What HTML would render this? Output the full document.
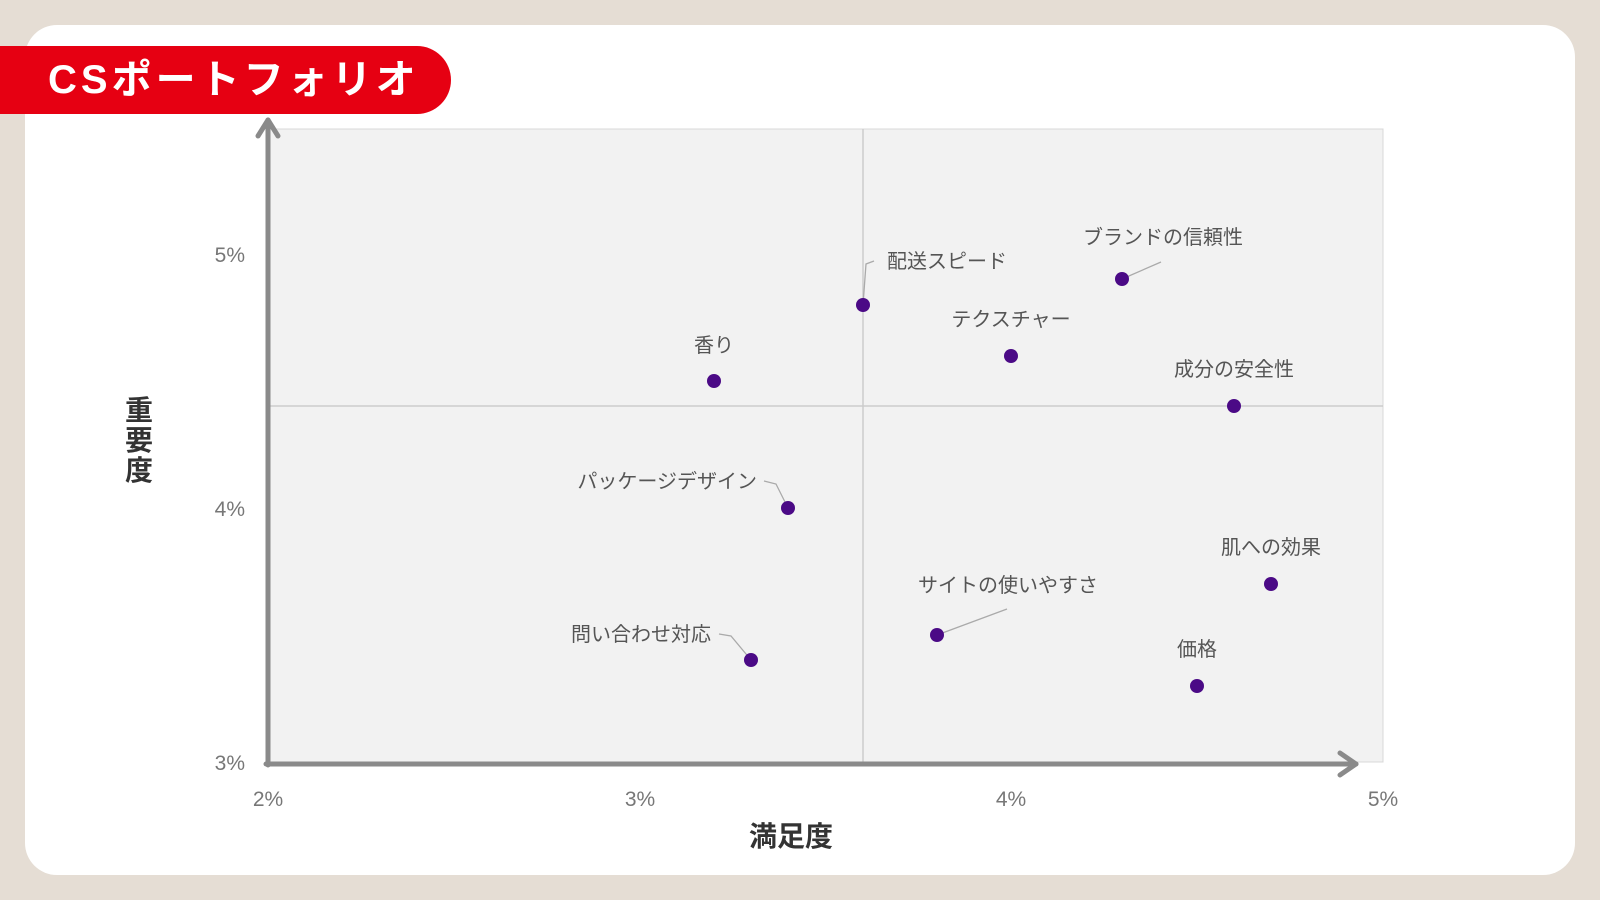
<!DOCTYPE html>
<html><head><meta charset="utf-8"><style>
body{margin:0;width:1600px;height:900px;background:#e5ddd4;overflow:hidden;font-family:"Liberation Sans","Noto Sans CJK JP",sans-serif}
.card{position:absolute;left:25px;top:25px;width:1550px;height:850px;background:#fff;border-radius:32px}
.ban{position:absolute;left:0;top:46px;width:451px;height:68px;background:#e60012;border-radius:0 34px 34px 0;color:#fff;font-weight:bold;font-size:40px;line-height:68px;padding-left:48px;box-sizing:border-box;letter-spacing:4px}
svg{position:absolute;left:0;top:0}
</style></head><body>
<div class="card"></div>
<svg width="1600" height="900" font-family="Liberation Sans, Noto Sans CJK JP, sans-serif">
<rect x="268" y="129" width="1115" height="633" fill="#f2f2f2" stroke="#d8d8d8"/>
<line x1="863" y1="129" x2="863" y2="762" stroke="#ccc" stroke-width="1.5"/>
<line x1="268" y1="406" x2="1383" y2="406" stroke="#ccc" stroke-width="1.5"/>
<g stroke="#8a8a8a" stroke-width="5" fill="none" stroke-linecap="round" stroke-linejoin="round">
<line x1="268" y1="765" x2="268" y2="120"/><polyline points="258,136 268,120 278,136"/>
<line x1="266" y1="764" x2="1356" y2="764"/><polyline points="1340,753 1356,764 1340,775"/>
</g>
<g fill="#777" font-size="21">
<text x="245" y="262" text-anchor="end">5%</text>
<text x="245" y="516" text-anchor="end">4%</text>
<text x="245" y="770" text-anchor="end">3%</text>
<text x="268" y="806" text-anchor="middle">2%</text>
<text x="640" y="806" text-anchor="middle">3%</text>
<text x="1011" y="806" text-anchor="middle">4%</text>
<text x="1383" y="806" text-anchor="middle">5%</text>
</g>
<text x="791" y="846" text-anchor="middle" font-size="28" font-weight="bold" fill="#333">満足度</text>
<g font-size="28" font-weight="bold" fill="#333" text-anchor="middle">
<text x="139" y="420">重</text><text x="139" y="450">要</text><text x="139" y="480">度</text>
</g>
<g stroke="#aaa" stroke-width="1.3" fill="none">
<polyline points="863,305 866,264 874,261"/>
<line x1="1122" y1="279" x2="1161" y2="262"/>
<polyline points="788,508 776,484 764,481"/>
<line x1="937" y1="635" x2="1007" y2="609"/>
<polyline points="751,660 731,636 719,634"/>
</g>
<g fill="#4b0a86">
<circle cx="714" cy="381" r="7"/>
<circle cx="863" cy="305" r="7"/>
<circle cx="1011" cy="356" r="7"/>
<circle cx="1122" cy="279" r="7"/>
<circle cx="1234" cy="406" r="7"/>
<circle cx="788" cy="508" r="7"/>
<circle cx="1271" cy="584" r="7"/>
<circle cx="937" cy="635" r="7"/>
<circle cx="751" cy="660" r="7"/>
<circle cx="1197" cy="686" r="7"/>
</g>
<g fill="#555" font-size="20">
<text x="714" y="352" text-anchor="middle">香り</text>
<text x="887" y="268">配送スピード</text>
<text x="1011" y="326" text-anchor="middle">テクスチャー</text>
<text x="1163" y="244" text-anchor="middle">ブランドの信頼性</text>
<text x="1234" y="376" text-anchor="middle">成分の安全性</text>
<text x="757" y="488" text-anchor="end">パッケージデザイン</text>
<text x="1271" y="554" text-anchor="middle">肌への効果</text>
<text x="1008" y="592" text-anchor="middle">サイトの使いやすさ</text>
<text x="711" y="641" text-anchor="end">問い合わせ対応</text>
<text x="1197" y="656" text-anchor="middle">価格</text>
</g>
</svg>
<div class="ban">CSポートフォリオ</div>
</body></html>
